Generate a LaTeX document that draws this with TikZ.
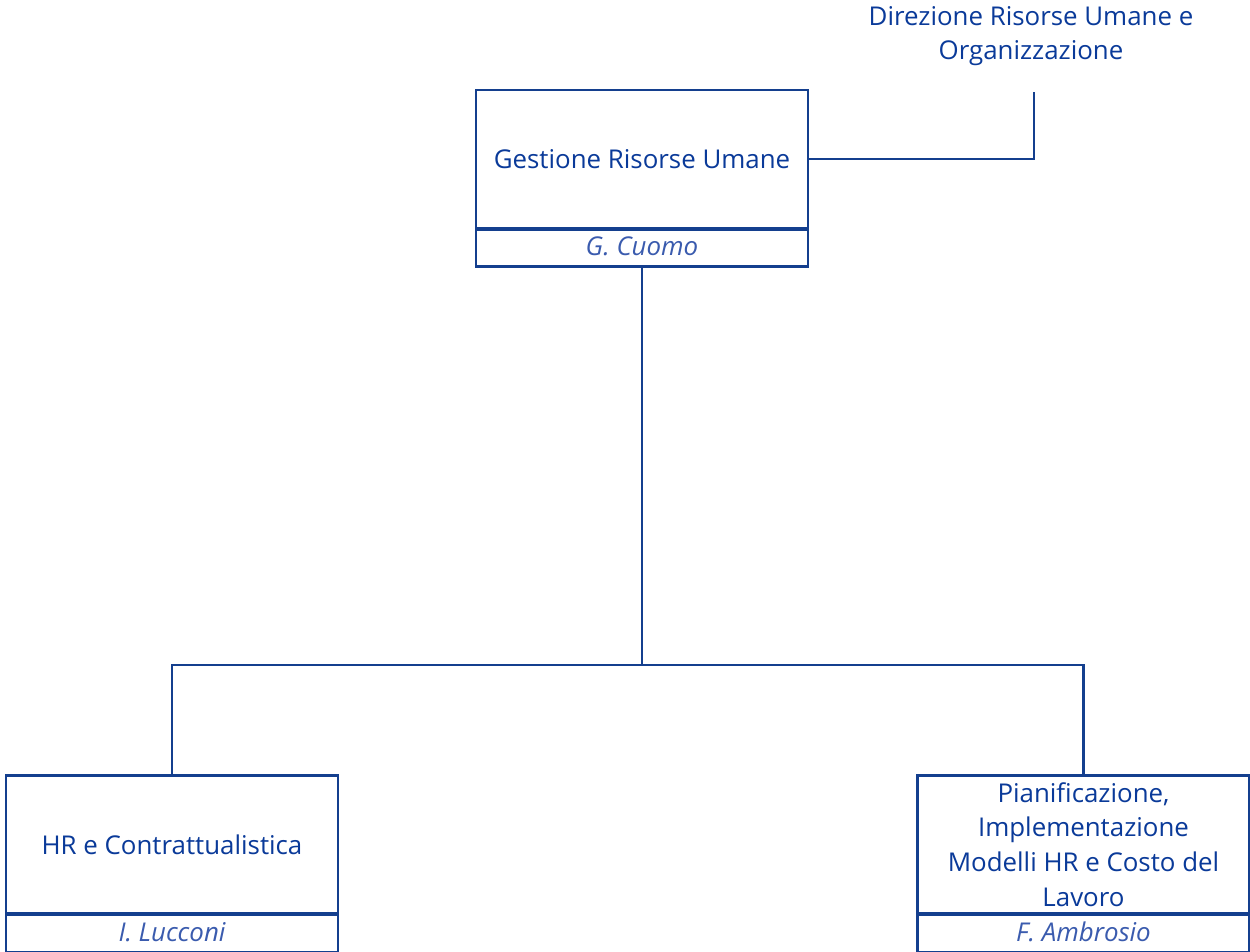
\documentclass[tikz,border=0pt]{standalone}
\usepackage{fontspec}
\setmainfont{Open Sans}
\usetikzlibrary{positioning,calc}
\definecolor{hrblue}{HTML}{0A3A99}
\definecolor{hrline}{HTML}{143F8E}
\definecolor{hrname}{HTML}{3A5BAE}
\tikzset{
  unit/.style={
    draw=hrline, fill=white, line width=2.2pt, text=hrblue, align=center,
    minimum width=249pt, minimum height=103.5pt, inner sep=2pt,
    font=\fontsize{19.4}{26}\selectfont
  },
  who/.style={
    draw=hrline, fill=white, line width=2.2pt, text=hrname, outer sep=0pt,
    minimum width=249pt, minimum height=27.75pt, inner sep=0pt,
    text height=15pt, text depth=3pt,
    font=\fontsize{19.4}{22}\selectfont\itshape
  },
  link/.style={draw=hrline, line width=1.8pt},
  head/.style={text=hrblue, align=center, font=\fontsize{19.4}{25.5}\selectfont}
}

\begin{document}
\begin{tikzpicture}[x=0.75pt,y=-0.75pt]
  \useasboundingbox (0,0) rectangle (1250,951);
  \node[head] (dir) at (1031,36) {Direzione Risorse Umane e\\Organizzazione};
  \coordinate (dirend) at (1034,92);
  \node[unit] (gru) at (642,159) {Gestione Risorse Umane};
  \node[who,anchor=north] (cuomo) at (gru.south) {G. Cuomo};
  \node[unit] (hrc) at (172,844.5) {HR e Contrattualistica};
  \node[who,anchor=north] (lucconi) at (hrc.south) {I. Lucconi};
  \node[unit] (pian) at (1083.5,844.5) {Pianificazione,\\Implementazione\\Modelli HR e Costo del\\Lavoro};
  \node[who,anchor=north] (ambrosio) at (pian.south) {F. Ambrosio};
  \coordinate (fork) at (642,665);
  % connectors
  \draw[link] (gru.east) -| (dirend);
  \draw[link] (cuomo.south) -- (fork);
  \draw[link] (fork) -| (hrc.north);
  \draw[link] (fork) -| (pian.north);
\end{tikzpicture}
\end{document}
